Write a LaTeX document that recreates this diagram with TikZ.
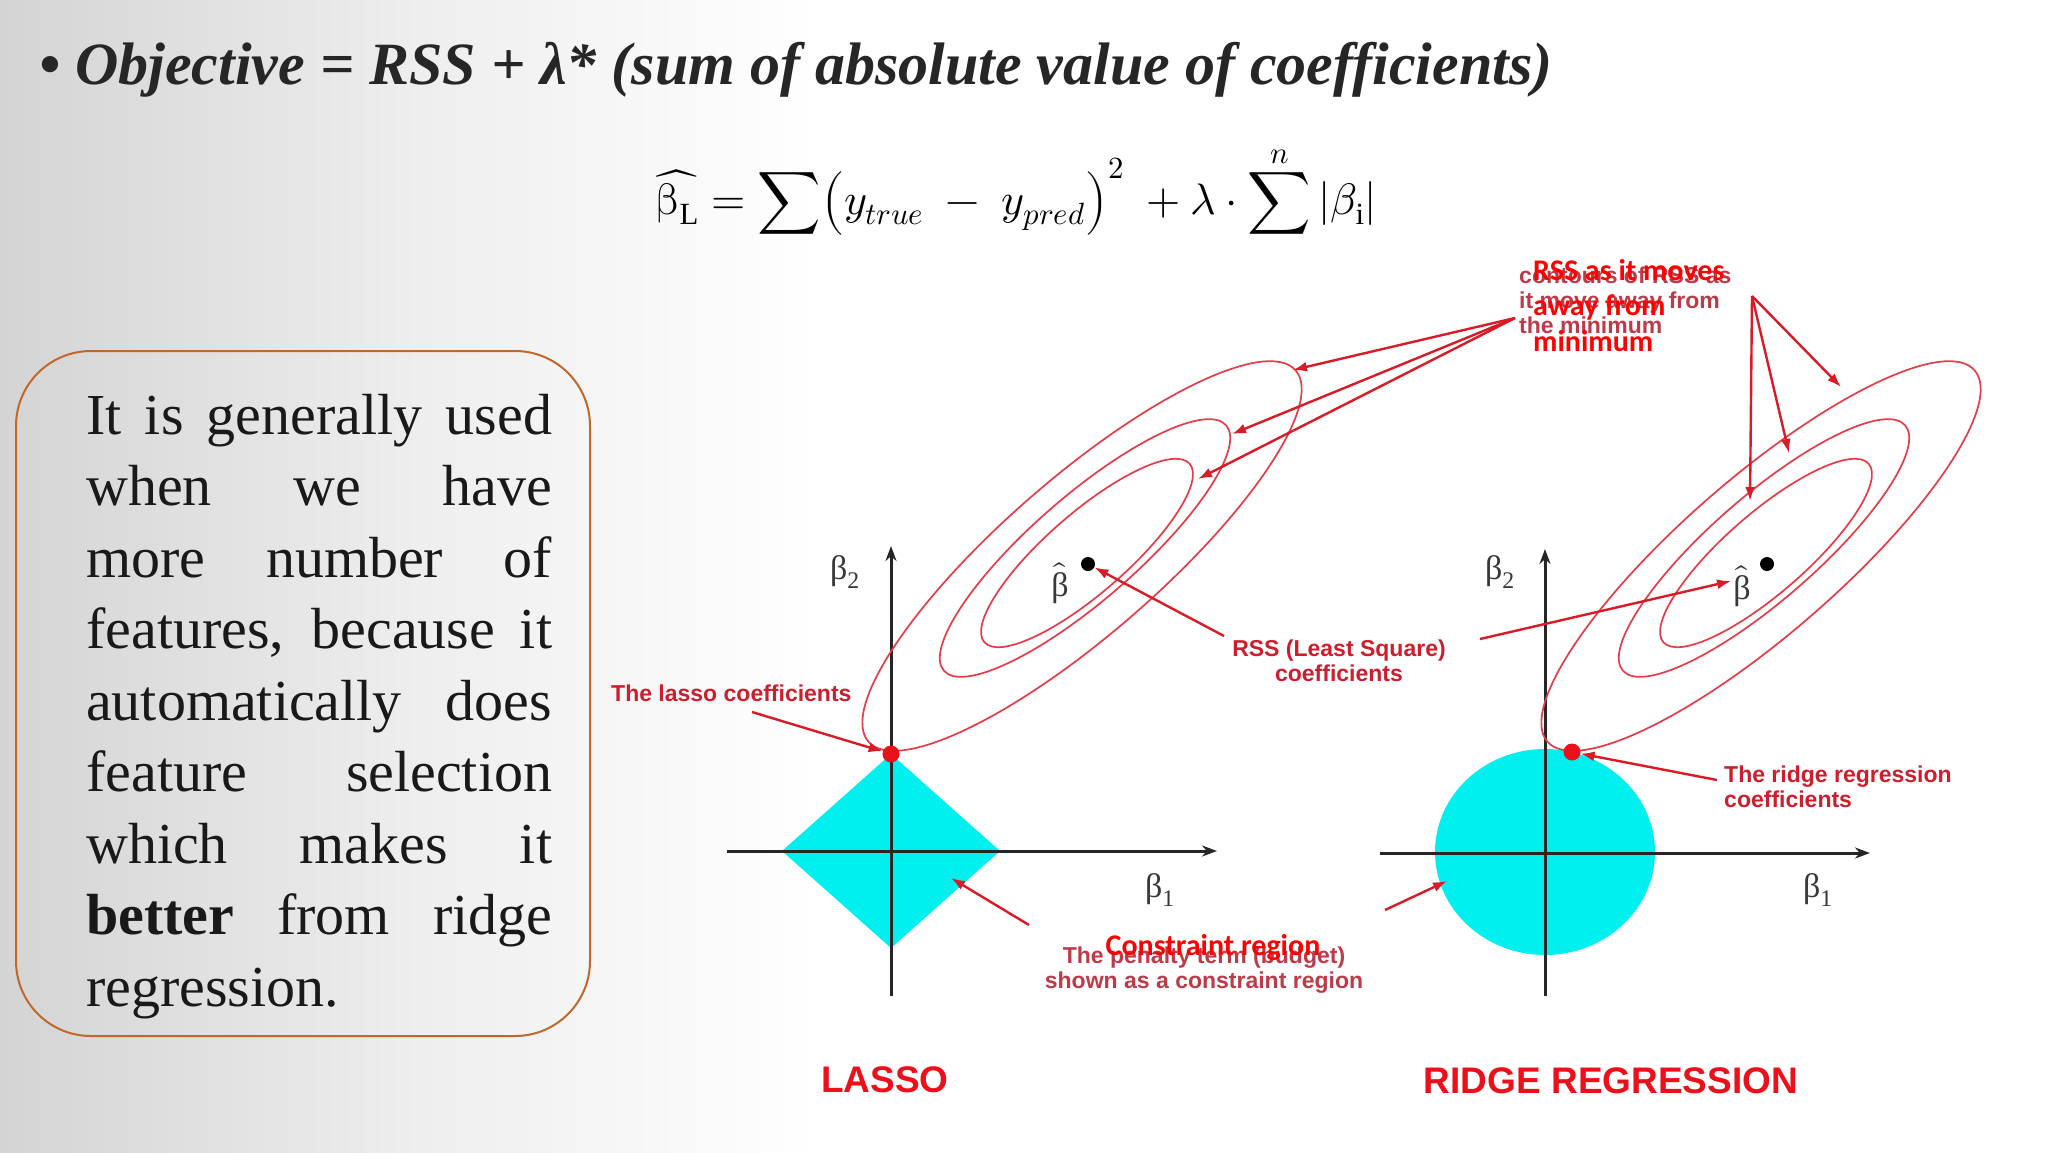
\documentclass[tikz,border=0pt]{standalone}
\usepackage{fontspec}
\usepackage{unicode-math}
\setmainfont{Liberation Serif}
\setmathfont{Latin Modern Math}
\newfontfamily\labelfont{Liberation Sans}
\newfontfamily\calfont{Carlito}
\usetikzlibrary{arrows.meta}
\definecolor{bgL}{RGB}{212,212,212}
\definecolor{bgM}{RGB}{238,238,238}
\definecolor{lblred}{RGB}{205,30,46}
\definecolor{brightred}{RGB}{255,0,0}
\definecolor{elred}{RGB}{228,60,72}
\definecolor{arrred}{RGB}{215,28,40}
\definecolor{dotred}{RGB}{235,16,26}
\definecolor{cyanfill}{RGB}{0,240,240}
\definecolor{boxbrown}{RGB}{192,104,44}
\definecolor{fadered}{RGB}{182,38,54}
\definecolor{titlegray}{RGB}{38,38,38}
\definecolor{textblack}{RGB}{25,25,25}
\tikzset{
  axisline/.style={line width=3pt, black!85, -{Stealth[length=15pt,width=11pt]}},
  ell/.style={draw=elred, line width=1.7pt},
  redarr/.style={arrred, line width=2.4pt, -{Latex[length=14pt,width=10pt]}},
  lbl/.style={font=\labelfont\bfseries\fontsize{23}{25}\selectfont, text=lblred, inner sep=0pt},
  fadelbl/.style={font=\labelfont\bfseries\fontsize{23}{25}\selectfont, text=fadered, text opacity=0.9, inner sep=0pt},
  brlbl/.style={font=\calfont\bfseries\fontsize{30}{36}\selectfont, text=brightred, inner sep=0pt},
  biglbl/.style={font=\labelfont\bfseries\fontsize{37}{40}\selectfont, text=dotred, inner sep=0pt, anchor=base},
  betalbl/.style={font=\fontsize{34}{36}\selectfont, text=black!78, inner sep=0pt},
  boxline/.style={anchor=base west, inner sep=0pt, font=\fontsize{58}{70}\selectfont, text=textblack},
  dotb/.style={circle, fill=black, minimum size=14pt, inner sep=0pt},
  reddot/.style={circle, fill=dotred, minimum size=17pt, inner sep=0pt}
}
\begin{document}
\begin{tikzpicture}[x=1pt,y=-1pt]
\useasboundingbox (0,0) rectangle (2048,1152);
% background
\shade[left color=bgL, right color=bgM] (0,0) rectangle (420,1152);
\shade[left color=bgM, right color=white] (420,0) rectangle (820,1152);
\fill[white] (820,0) rectangle (2048,1152);

% title
\node[anchor=base west, inner sep=0pt, font=\bfseries\itshape\fontsize{60}{72}\selectfont, text=titlegray] (title) at (39,84)
  {• Objective = RSS + λ* (sum of absolute value of coefficients)};

% formula
\node[anchor=base, inner sep=0pt, font=\fontsize{44}{54}\selectfont] (formula) at (1016,214)
  {$\displaystyle \widehat{\symup{\beta}_{\mathrm{L}}} = \sum\!\left(\vphantom{\sum} y_{true}\;-\;y_{pred}\right)^{2}\;+\lambda\cdot\sum^{n}|\beta_{\mathrm{i}}|$};

% text box
\draw[boxbrown, line width=2pt, rounded corners=75pt] (16,351) rectangle (590,1036);
\node[boxline] (l1) at (86,434) {\makebox[466pt][s]{It is generally used}};
\node[boxline] (l2) at (86,505.5) {\makebox[466pt][s]{when we have}};
\node[boxline] (l3) at (86,577) {\makebox[466pt][s]{more number of}};
\node[boxline] (l4) at (86,648.5) {\makebox[466pt][s]{features, because it}};
\node[boxline] (l5) at (86,720) {\makebox[466pt][s]{automatically does}};
\node[boxline] (l6) at (86,791.5) {\makebox[466pt][s]{feature selection}};
\node[boxline] (l7) at (86,863) {\makebox[466pt][s]{which makes it}};
\node[boxline] (l8) at (86,934.5) {\makebox[466pt][s]{\textbf{better} from ridge}};
\node[boxline] (l9) at (86,1006) {regression.};

% constraint regions
\fill[cyanfill] (891,754) -- (1000,851) -- (891,948) -- (782,851) -- cycle;
\fill[cyanfill] (1545,852) ellipse [x radius=110pt, y radius=103pt];

% axes
\coordinate (lxs) at (727,851); \coordinate (lxe) at (1217,851);
\coordinate (lys) at (891,996); \coordinate (lye) at (891,546);
\coordinate (rxs) at (1380,853); \coordinate (rxe) at (1870,853);
\coordinate (rys) at (1545,996); \coordinate (rye) at (1545,549);
\draw[axisline] (lxs) -- (lxe);
\draw[axisline] (lys) -- (lye);
\draw[axisline] (rxs) -- (rxe);
\draw[axisline] (rys) -- (rye);

% RSS contours
\foreach \dx in {0,679}{
  \begin{scope}[xshift=\dx pt]
    \draw[ell, rotate around={41:(1082,556)}] (1082,556) ellipse [x radius=283pt, y radius=78pt];
    \draw[ell, rotate around={41:(1085,548)}] (1085,548) ellipse [x radius=187pt, y radius=52pt];
    \draw[ell, rotate around={41:(1087,553)}] (1087,553) ellipse [x radius=136pt, y radius=40pt];
  \end{scope}
}

% dots
\node[dotb] (bhL) at (1088,564) {};
\node[dotb] (bhR) at (1767,564) {};
\node[reddot] (rdL) at (891,754) {};
\node[reddot] (rdR) at (1572,752) {};

% beta labels
\node[betalbl] (b2L) at (845,572) {β\textsubscript{2}};
\node[betalbl] (b1L) at (1160,890) {β\textsubscript{1}};
\node[betalbl] (b2R) at (1500,572) {β\textsubscript{2}};
\node[betalbl] (b1R) at (1818,890) {β\textsubscript{1}};
\node[betalbl] (bhatL) at (1060,583) {$\hat{\text{β}}$};
\node[betalbl] (bhatR) at (1742,586) {$\hat{\text{β}}$};

% contour label
\node[fadelbl, anchor=base west] (ct1) at (1519,283) {contours of RSS as};
\node[fadelbl, anchor=base west] (ct2) at (1519,308) {it move away from};
\node[fadelbl, anchor=base west] (ct3) at (1519,333) {the minimum};
\node[brlbl, anchor=base west] (ov1) at (1533,280) {RSS as it moves};
\node[brlbl, anchor=base west] (ov2) at (1533,315.5) {away from};
\node[brlbl, anchor=base west] (ov3) at (1533,351) {minimum};
\coordinate (cL) at (1515,318);
\coordinate (cR) at (1752,296);
\coordinate (tL1) at (1293,370);
\coordinate (tL2) at (1232,434);
\coordinate (tL3) at (1198,479);
\coordinate (tR1) at (1841,387);
\coordinate (tR2) at (1789,453);
\coordinate (tR3) at (1750,501);
\draw[redarr] (cL) -- (tL1);
\draw[redarr] (cL) -- (tL2);
\draw[redarr] (cL) -- (tL3);
\draw[redarr] (cR) -- (tR1);
\draw[redarr] (cR) -- (tR2);
\draw[redarr] (cR) -- (tR3);

% RSS least squares
\node[lbl, anchor=base] (rss1) at (1339,656) {RSS (Least Square)};
\node[lbl, anchor=base] (rss2) at (1339,681) {coefficients};
\coordinate (rssA) at (1224,636);
\coordinate (rssB) at (1480,639);
\coordinate (rssT) at (1731,581);
\draw[redarr] (rssA) -- (bhL);
\draw[redarr] (rssB) -- (rssT);

% lasso coefficients
\node[lbl, anchor=base west] (lassolbl) at (611,701) {The lasso coefficients};
\coordinate (lasA) at (752,712);
\draw[redarr] (lasA) -- (rdL);

% ridge coefficients
\node[lbl, anchor=base west] (rid1) at (1724,782) {The ridge regression};
\node[lbl, anchor=base west] (rid2) at (1724,807) {coefficients};
\coordinate (ridA) at (1717,780);
\draw[redarr] (ridA) -- (rdR);

% penalty / constraint region
\node[fadelbl, anchor=base] (pen1) at (1204,963) {The penalty term (budget)};
\node[fadelbl, anchor=base] (pen2) at (1204,988) {shown as a constraint region};
\node[brlbl, anchor=base] (cons) at (1213,955) {Constraint region};
\coordinate (penA) at (1029,925);
\coordinate (penTL) at (951,878);
\coordinate (penB) at (1385,910);
\coordinate (penTR) at (1447,881);
\draw[redarr] (penA) -- (penTL);
\draw[redarr] (penB) -- (penTR);

% bottom titles
\node[biglbl] (lasso) at (885,1092) {LASSO};
\node[biglbl] (ridge) at (1611,1093) {RIDGE REGRESSION};
\end{tikzpicture}
\end{document}
